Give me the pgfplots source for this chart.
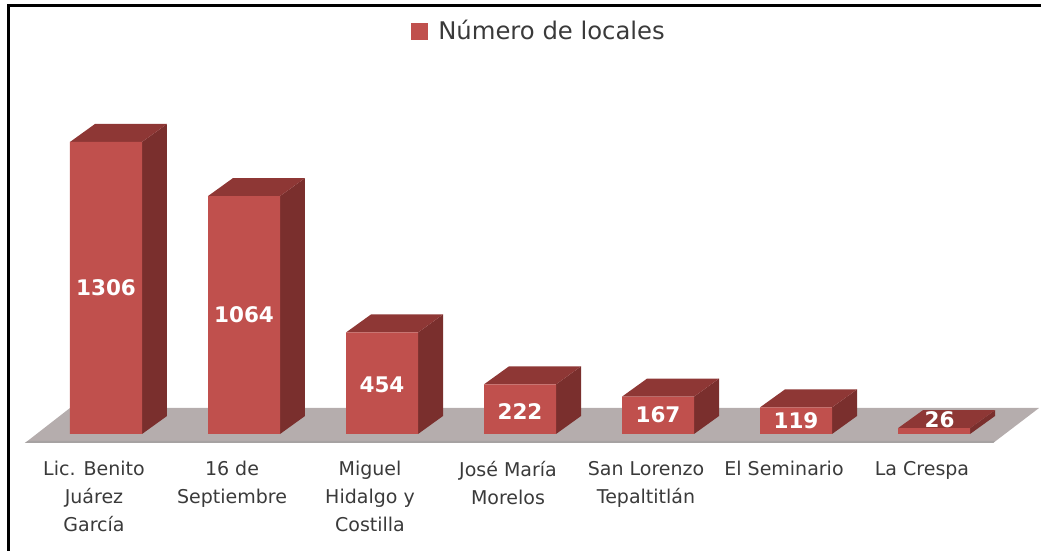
\documentclass[border=0pt]{standalone}
\usepackage{pgfplots}
\pgfplotsset{compat=1.18}
\usepackage{fontspec}
\setmainfont{DejaVu Sans}
\definecolor{frontc}{HTML}{C0504D}
\definecolor{topc}{HTML}{8E3735}
\definecolor{sidec}{HTML}{7A2F2D}
\definecolor{floorc}{HTML}{B5ADAD}
\definecolor{flooredge}{HTML}{A6A2A2}
\definecolor{labc}{HTML}{3A3A3A}
\newcommand{\myfontsz}[1]{\fontsize{#1pt}{#1pt}\selectfont}
\begin{document}
\begin{tikzpicture}
\path[use as bounding box] (0,0) rectangle (1041pt,551pt);
\begin{axis}[
  at={(0pt,108pt)}, anchor=south west,
  width=1041pt, height=443pt, scale only axis,
  xmin=-0.7681, xmax=6.7754, ymin=-40.25, ymax=1941,
  clip=false,
  axis line style={draw=none}, tick style={draw=none},
  ytick=\empty,
  xtick={0,1,2,3,4,5,6},
  xticklabels={{Lic. Benito\\Juárez\\García},{16 de\\Septiembre},{Miguel\\Hidalgo y\\Costilla},{José María\\Morelos},{San Lorenzo\\Tepaltitlán},{El Seminario},{La Crespa}},
  xticklabel style={align=center, text=labc, font={\fontsize{19pt}{28pt}\selectfont}, xshift=-12pt, yshift=-15pt, anchor=north},
  legend style={draw=none, fill=none, at={(0.392,0.93)}, anchor=west, font={\myfontsz{24.3}}, text=labc, legend cell align=left},
]
% floor
\addplot[fill=floorc, draw=none, forget plot] coordinates {(-0.587,-40.25) (6.428,-40.25) (6.761,116.3) (-0.261,116.3)} --cycle;
\addplot[fill=flooredge, draw=none, forget plot] coordinates {(-0.587,-40.25) (6.428,-40.25) (6.443,-31) (-0.567,-31)} --cycle;
% sides
\addplot[fill=sidec, draw=none, forget plot] coordinates {(0.261,0) (0.442,80.5) (0.442,1386.5) (0.261,1306)} --cycle;
\addplot[fill=sidec, draw=none, forget plot] coordinates {(1.261,0) (1.442,80.5) (1.442,1144.5) (1.261,1064)} --cycle;
\addplot[fill=sidec, draw=none, forget plot] coordinates {(2.261,0) (2.442,80.5) (2.442,534.5) (2.261,454)} --cycle;
\addplot[fill=sidec, draw=none, forget plot] coordinates {(3.261,0) (3.442,80.5) (3.442,302.5) (3.261,222)} --cycle;
\addplot[fill=sidec, draw=none, forget plot] coordinates {(4.261,0) (4.442,80.5) (4.442,247.5) (4.261,167)} --cycle;
\addplot[fill=sidec, draw=none, forget plot] coordinates {(5.261,0) (5.442,80.5) (5.442,199.5) (5.261,119)} --cycle;
\addplot[fill=sidec, draw=none, forget plot] coordinates {(6.261,0) (6.442,80.5) (6.442,106.5) (6.261,26)} --cycle;
% tops
\addplot[fill=topc, draw=none, forget plot] coordinates {(-0.261,1306) (0.261,1306) (0.442,1386.5) (-0.080,1386.5)} --cycle;
\addplot[fill=topc, draw=none, forget plot] coordinates {(0.739,1064) (1.261,1064) (1.442,1144.5) (0.920,1144.5)} --cycle;
\addplot[fill=topc, draw=none, forget plot] coordinates {(1.739,454) (2.261,454) (2.442,534.5) (1.920,534.5)} --cycle;
\addplot[fill=topc, draw=none, forget plot] coordinates {(2.739,222) (3.261,222) (3.442,302.5) (2.920,302.5)} --cycle;
\addplot[fill=topc, draw=none, forget plot] coordinates {(3.739,167) (4.261,167) (4.442,247.5) (3.920,247.5)} --cycle;
\addplot[fill=topc, draw=none, forget plot] coordinates {(4.739,119) (5.261,119) (5.442,199.5) (4.920,199.5)} --cycle;
\addplot[fill=topc, draw=none, forget plot] coordinates {(5.739,26) (6.261,26) (6.442,106.5) (5.920,106.5)} --cycle;
% front faces
\addplot[ybar, bar width=72pt, bar shift=0pt, fill=frontc, draw=none,
  legend image code/.code={\fill[frontc] (0pt,-8.5pt) rectangle (17pt,8.5pt); \path (25pt,0pt);}]
  coordinates {(0,1306) (1,1064) (2,454) (3,222) (4,167) (5,119) (6,26)};
\addlegendentry{Número de locales}
% data labels
\addplot[draw=none, mark=none, forget plot, point meta=explicit symbolic,
  nodes near coords, every node near coord/.style={anchor=center, text=white, font={\myfontsz{21.5}\bfseries}}]
  table[x=x, y=y, meta=v] {
x y v
0 653 1306
1 532 1064
2 218 454
3 102 222
4 85 167
5 58 119
6.04 62 26
};
\end{axis}
% frame
\draw[black, line width=3pt] (8.5pt,0pt) -- (8.5pt,545pt) -- (1041pt,545pt);
\end{tikzpicture}
\end{document}
